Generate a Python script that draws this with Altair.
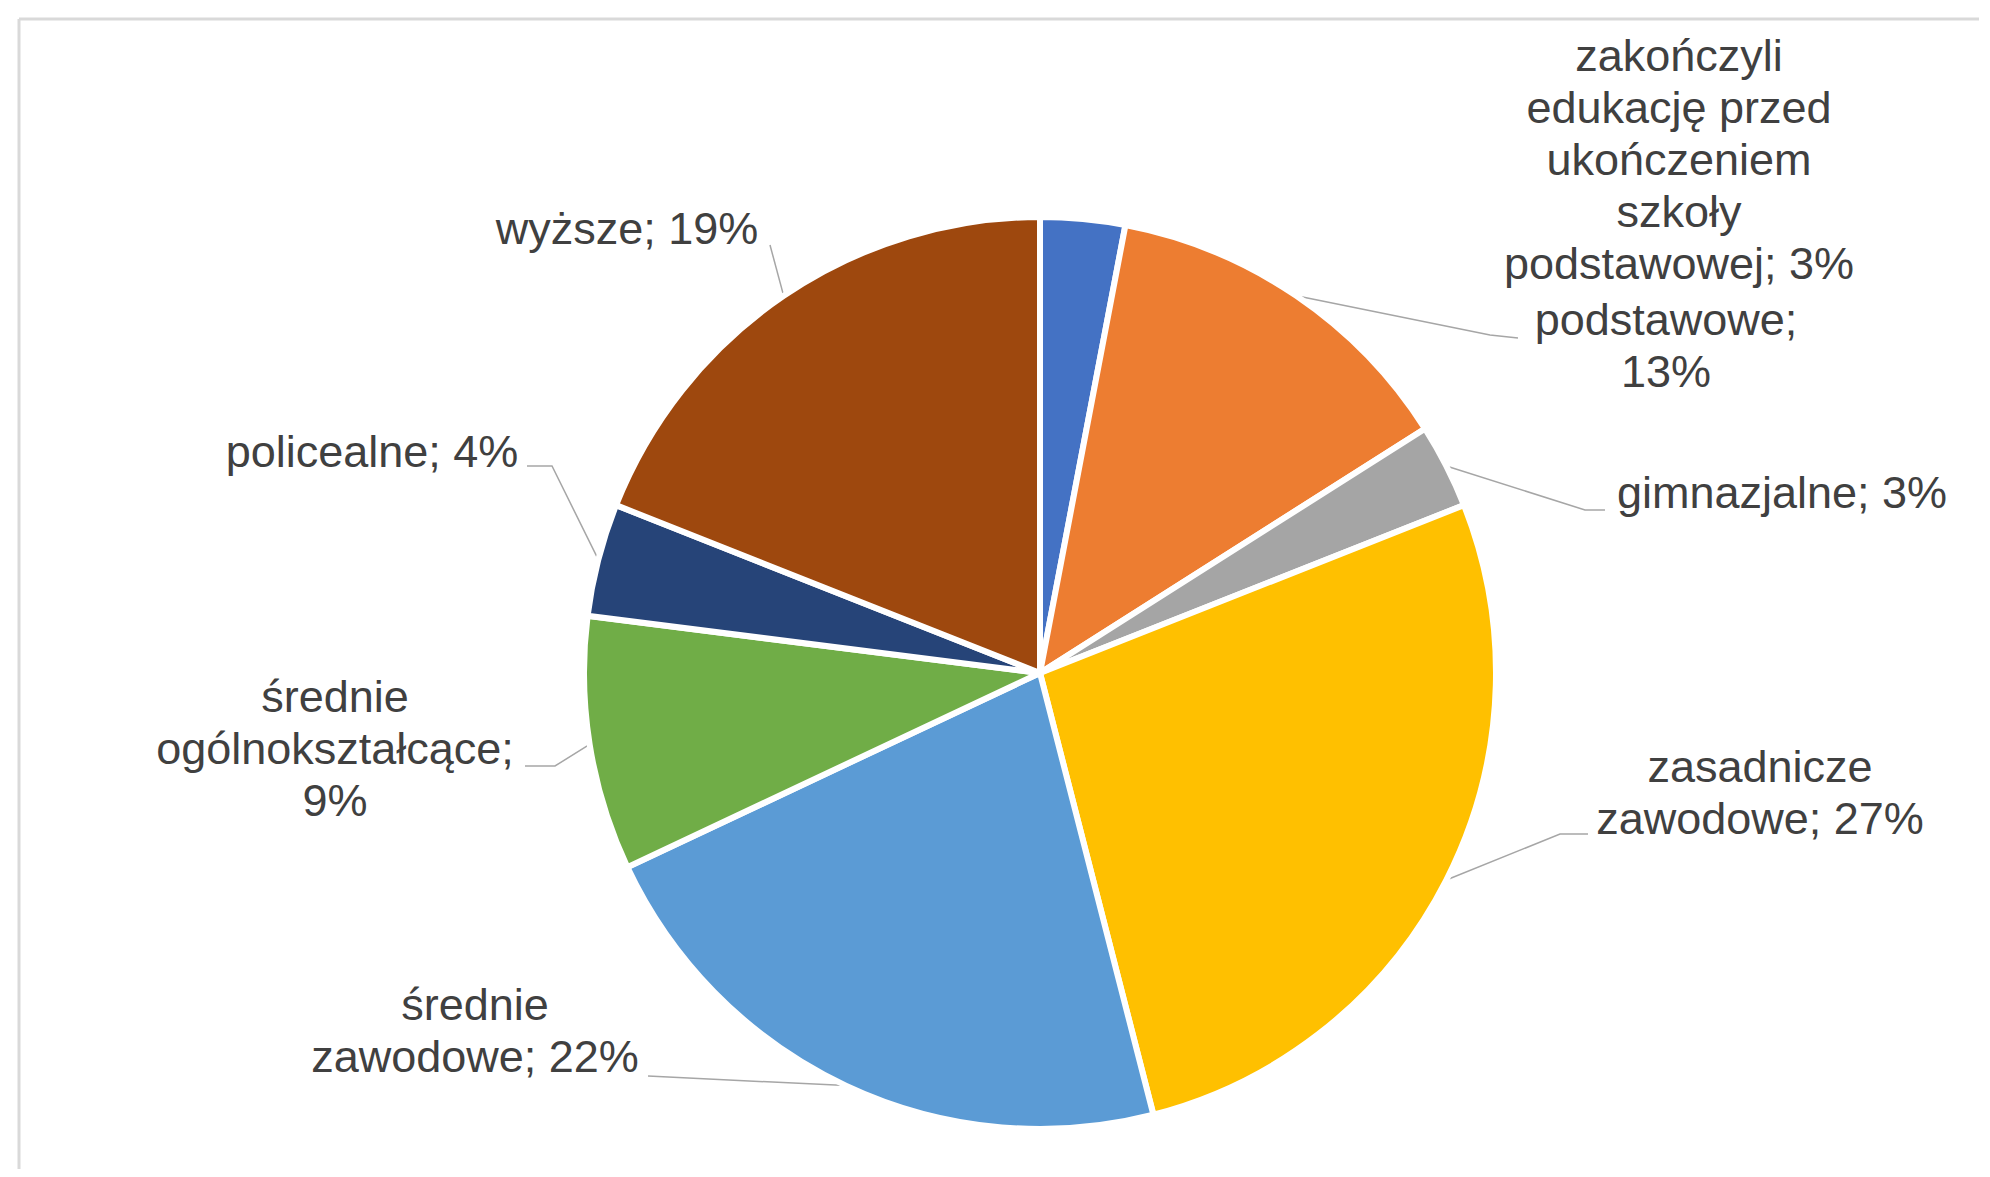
import math
import altair as alt
import pandas as pd

# ---- data ----
categories = [
    "zakończyli edukację przed ukończeniem szkoły podstawowej",
    "podstawowe",
    "gimnazjalne",
    "zasadnicze zawodowe",
    "średnie zawodowe",
    "średnie ogólnokształcące",
    "policealne",
    "wyższe",
]
values = [3, 13, 3, 27, 22, 9, 4, 19]
label_texts = [
    "zakończyli\nedukację przed\nukończeniem\nszkoły\npodstawowej; 3%",
    "podstawowe;\n13%",
    "gimnazjalne; 3%",
    "zasadnicze\nzawodowe; 27%",
    "średnie\nzawodowe; 22%",
    "średnie\nogólnokształcące;\n9%",
    "policealne; 4%",
    "wyższe; 19%",
]
colors = ["#4472C4", "#ED7D31", "#A5A5A5", "#FFC000", "#5B9BD5", "#70AD47", "#264478", "#9E480E"]

# ---- layout (pixel positions inside the plot area) ----
W, H = 1960, 1150
OFF = 19                      # page offset of the plot area (8 margin + 11 padding)
CX, CY, R = 1040 - OFF, 673 - OFF, 456
# position of the first line of each label (centre x, middle y)
label_pos = [(1679, 57), (1666, 321), (1782, 494), (1760, 768),
             (475, 1006), (335, 698), (372, 453), (627, 230)]
# leader: (anchor near label, elbow) or None
leaders = [None,
           ((1518, 338), (1490, 335)),
           ((1605, 510), (1585, 510)),
           ((1588, 834), (1560, 834)),
           ((648, 1076), (648, 1076)),
           ((525, 766), (555, 766)),
           ((527, 466), (552, 466)),
           ((770, 245), (770, 245))]

total = sum(values)
pie_df = pd.DataFrame({"cat": categories, "value": values, "idx": list(range(len(values)))})

lab_df = pd.DataFrame({
    "cat": categories,
    "text": label_texts,
    "lx": [p[0] - OFF for p in label_pos],
    "ly": [p[1] - OFF for p in label_pos],
})

rows = []
cum = 0
for i, v in enumerate(values):
    mid = (cum + v / 2) / total * 2 * math.pi
    cum += v
    if leaders[i] is None:
        continue
    (ax, ay), (bx, by) = leaders[i]
    ex = CX + R * math.sin(mid)
    ey = CY - R * math.cos(mid)
    rows += [
        {"cat": categories[i], "pt": 0, "px": ax - OFF, "py": ay - OFF},
        {"cat": categories[i], "pt": 1, "px": bx - OFF, "py": by - OFF},
        {"cat": categories[i], "pt": 2, "px": ex, "py": ey},
    ]
lead_df = pd.DataFrame(rows)

pie = alt.Chart(pie_df).mark_arc(outerRadius=R, stroke="white", strokeWidth=6).encode(
    theta=alt.Theta("value:Q", stack=True),
    order=alt.Order("idx:Q"),
    color=alt.Color("cat:N", scale=alt.Scale(domain=categories, range=colors), legend=None),
    x=alt.value(CX),
    y=alt.value(CY),
)

lines = alt.Chart(lead_df).mark_line(color="#a6a6a6", strokeWidth=1.5).encode(
    x=alt.X("px:Q", scale=None, axis=None),
    y=alt.Y("py:Q", scale=None, axis=None),
    detail="cat:N",
    order="pt:Q",
)

labels = alt.Chart(lab_df).mark_text(
    font="Liberation Sans, Arial, sans-serif", fontSize=45, color="#404040",
    lineBreak="\n", lineHeight=52, align="center", baseline="middle",
).encode(
    x=alt.X("lx:Q", scale=None, axis=None),
    y=alt.Y("ly:Q", scale=None, axis=None),
    text="text:N",
)

frame_df = pd.DataFrame({"k": [0]})
top_rule = alt.Chart(frame_df).mark_rule(color="#d9d9d9", strokeWidth=3).encode(
    x=alt.value(0), x2=alt.value(W), y=alt.value(0))
left_rule = alt.Chart(frame_df).mark_rule(color="#d9d9d9", strokeWidth=3).encode(
    x=alt.value(0), y=alt.value(0), y2=alt.value(H))

chart = alt.layer(top_rule, left_rule, lines, pie, labels).properties(
    width=W, height=H,
    padding={"left": 11, "top": 11, "right": 0, "bottom": 0},
    autosize=alt.AutoSizeParams(type="none"),
    background="white",
).configure_view(stroke=None)

chart.save("out.html", embed_options={"renderer": "svg", "actions": False})
